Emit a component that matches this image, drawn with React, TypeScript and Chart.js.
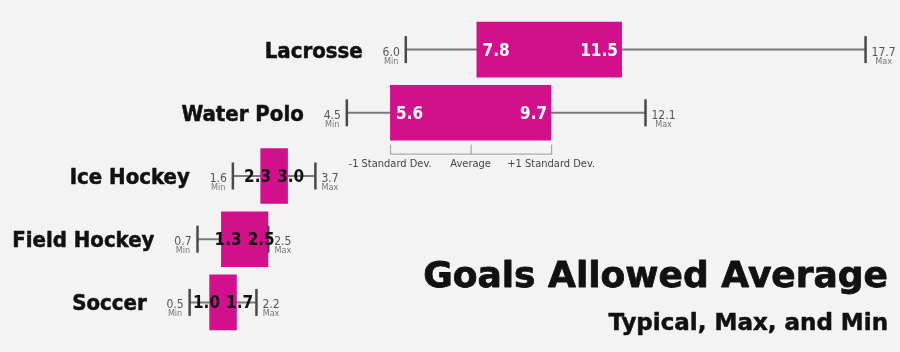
import React, { useEffect, useRef } from "react";
import { Chart, registerables } from "chart.js";

Chart.register(...registerables);

const categories = ["Lacrosse", "Water Polo", "Ice Hockey", "Field Hockey", "Soccer"];
const minVals = [6.0, 4.5, 1.6, 0.7, 0.5];
const lowVals = [7.8, 5.6, 2.3, 1.3, 1.0];
const highVals = [11.5, 9.7, 3.0, 2.5, 1.7];
const maxVals = [17.7, 12.1, 3.7, 2.5, 2.2];
const legendLabels = ["-1 Standard Dev.", "Average", "+1 Standard Dev."];
const legendRow = 1;
const titleText = "Goals Allowed Average";
const subtitleText = "Typical, Max, and Min";

const BAR = "#D2108C";
const COND = '"DejaVu Sans Condensed", "DejaVu Sans", sans-serif';
const SANS = '"DejaVu Sans", sans-serif';

const fmt = (v: number) => v.toFixed(1);

function heavyText(ctx: any, txt: string, x: number, y: number, w: number) {
  ctx.lineWidth = w;
  ctx.lineJoin = "round";
  ctx.strokeStyle = ctx.fillStyle;
  ctx.fillText(txt, x, y);
  ctx.strokeText(txt, x, y);
}

const boxPlugin = {
  id: "boxPlugin",
  beforeDatasetsDraw(chart: any) {
    const ctx = chart.ctx;
    const xs = chart.scales.x;
    const ys = chart.scales.y;
    ctx.save();
    categories.forEach((_, i) => {
      const y = ys.getPixelForValue(i);
      const x0 = xs.getPixelForValue(minVals[i]);
      const x1 = xs.getPixelForValue(maxVals[i]);
      ctx.strokeStyle = "#7a7a7a";
      ctx.lineWidth = 2;
      ctx.beginPath();
      ctx.moveTo(x0, y);
      ctx.lineTo(x1, y);
      ctx.stroke();
    });
    ctx.restore();
  },
  afterDatasetsDraw(chart: any) {
    const ctx = chart.ctx;
    const xs = chart.scales.x;
    const ys = chart.scales.y;
    const meta = chart.getDatasetMeta(0);
    ctx.save();
    categories.forEach((cat, i) => {
      const y = ys.getPixelForValue(i);
      const x0 = xs.getPixelForValue(minVals[i]);
      const x1 = xs.getPixelForValue(maxVals[i]);
      // whisker ticks
      ctx.strokeStyle = "#4a4a4a";
      ctx.lineWidth = 2.5;
      [x0, x1].forEach((x) => {
        ctx.beginPath();
        ctx.moveTo(x, y - 13.5);
        ctx.lineTo(x, y + 13.5);
        ctx.stroke();
      });
      // min label
      ctx.font = `12px ${COND}`;
      ctx.fillStyle = "#555";
      ctx.textBaseline = "alphabetic";
      ctx.textAlign = "right";
      const minTxt = fmt(minVals[i]);
      const mw = ctx.measureText(minTxt).width;
      ctx.fillText(minTxt, x0 - 6, y + 6);
      ctx.font = `9px ${COND}`;
      ctx.fillStyle = "#777";
      ctx.textAlign = "center";
      ctx.fillText("Min", x0 - 6 - mw / 2, y + 14);
      // max label
      ctx.font = `12px ${COND}`;
      ctx.fillStyle = "#555";
      ctx.textAlign = "left";
      const maxTxt = fmt(maxVals[i]);
      const xw = ctx.measureText(maxTxt).width;
      ctx.fillText(maxTxt, x1 + 6, y + 6);
      ctx.font = `9px ${COND}`;
      ctx.fillStyle = "#777";
      ctx.textAlign = "center";
      ctx.fillText("Max", x1 + 6 + xw / 2, y + 14);
      // category label
      ctx.font = `bold 22px ${COND}`;
      ctx.fillStyle = "#111";
      ctx.textAlign = "right";
      heavyText(ctx, cat, x0 - 43, y + 8, 0.5);
      // values in bar
      const bl = xs.getPixelForValue(lowVals[i]);
      const br = xs.getPixelForValue(highVals[i]);
      ctx.font = `bold 17px ${COND}`;
      const lt = fmt(lowVals[i]);
      const rt = fmt(highVals[i]);
      const lw = ctx.measureText(lt).width;
      const rw = ctx.measureText(rt).width;
      if (br - bl > lw + rw + 20) {
        ctx.fillStyle = "#fff";
        ctx.textAlign = "left";
        ctx.fillText(lt, bl + 6, y + 6);
        ctx.textAlign = "right";
        ctx.fillText(rt, br - 4, y + 6);
      } else {
        const c = (bl + br) / 2;
        ctx.fillStyle = "#111";
        ctx.textAlign = "right";
        ctx.fillText(lt, c - 3, y + 6);
        ctx.textAlign = "left";
        ctx.fillText(rt, c + 3, y + 6);
      }
    });
    // legend bracket under the chosen row
    const el = meta.data[legendRow];
    const bottom = el.y + el.height / 2;
    const lx = xs.getPixelForValue(lowVals[legendRow]);
    const hx = xs.getPixelForValue(highVals[legendRow]);
    const ax = xs.getPixelForValue((lowVals[legendRow] + highVals[legendRow]) / 2);
    ctx.strokeStyle = "#999";
    ctx.lineWidth = 1;
    ctx.beginPath();
    [lx, ax, hx].forEach((x) => {
      ctx.moveTo(x + 0.5, bottom + 4);
      ctx.lineTo(x + 0.5, bottom + 13.5);
    });
    ctx.moveTo(lx, bottom + 13.5);
    ctx.lineTo(hx + 1, bottom + 13.5);
    ctx.stroke();
    ctx.font = `11px ${COND}`;
    ctx.fillStyle = "#444";
    ctx.textAlign = "center";
    [lx, ax, hx].forEach((x, k) => {
      ctx.fillText(legendLabels[k], x, bottom + 26);
    });
    // title
    ctx.fillStyle = "#111";
    ctx.textAlign = "right";
    ctx.font = `bold 36px ${SANS}`;
    heavyText(ctx, titleText, 888, 287, 0.8);
    ctx.font = `bold 23px ${SANS}`;
    heavyText(ctx, subtitleText, 888, 330, 0.5);
    ctx.restore();
  },
};

export default function App() {
  const ref = useRef<HTMLCanvasElement | null>(null);
  useEffect(() => {
    if (!ref.current) return;
    const chart = new Chart(ref.current, {
      type: "bar",
      data: {
        labels: categories,
        datasets: [
          {
            data: lowVals.map((v, i) => [v, highVals[i]]) as any,
            backgroundColor: BAR,
            borderWidth: 0,
            barPercentage: 0.88,
            categoryPercentage: 1,
          },
        ],
      },
      options: {
        indexAxis: "y",
        animation: false,
        responsive: false,
        devicePixelRatio: 1,
        layout: { padding: { left: 170, right: 3, top: 18, bottom: 18 } },
        scales: {
          x: { type: "linear", min: 0, max: 18.5, display: false },
          y: { type: "category", display: false },
        },
        plugins: {
          legend: { display: false },
          tooltip: { enabled: false },
        },
      },
      plugins: [boxPlugin],
    });
    return () => chart.destroy();
  }, []);
  return (
    <div
      style={{
        position: "absolute",
        left: 0,
        top: 0,
        width: 900,
        height: 352,
        background: "#f3f3f3",
      }}
    >
      <canvas ref={ref} width={900} height={352} style={{ display: "block" }} />
    </div>
  );
}
